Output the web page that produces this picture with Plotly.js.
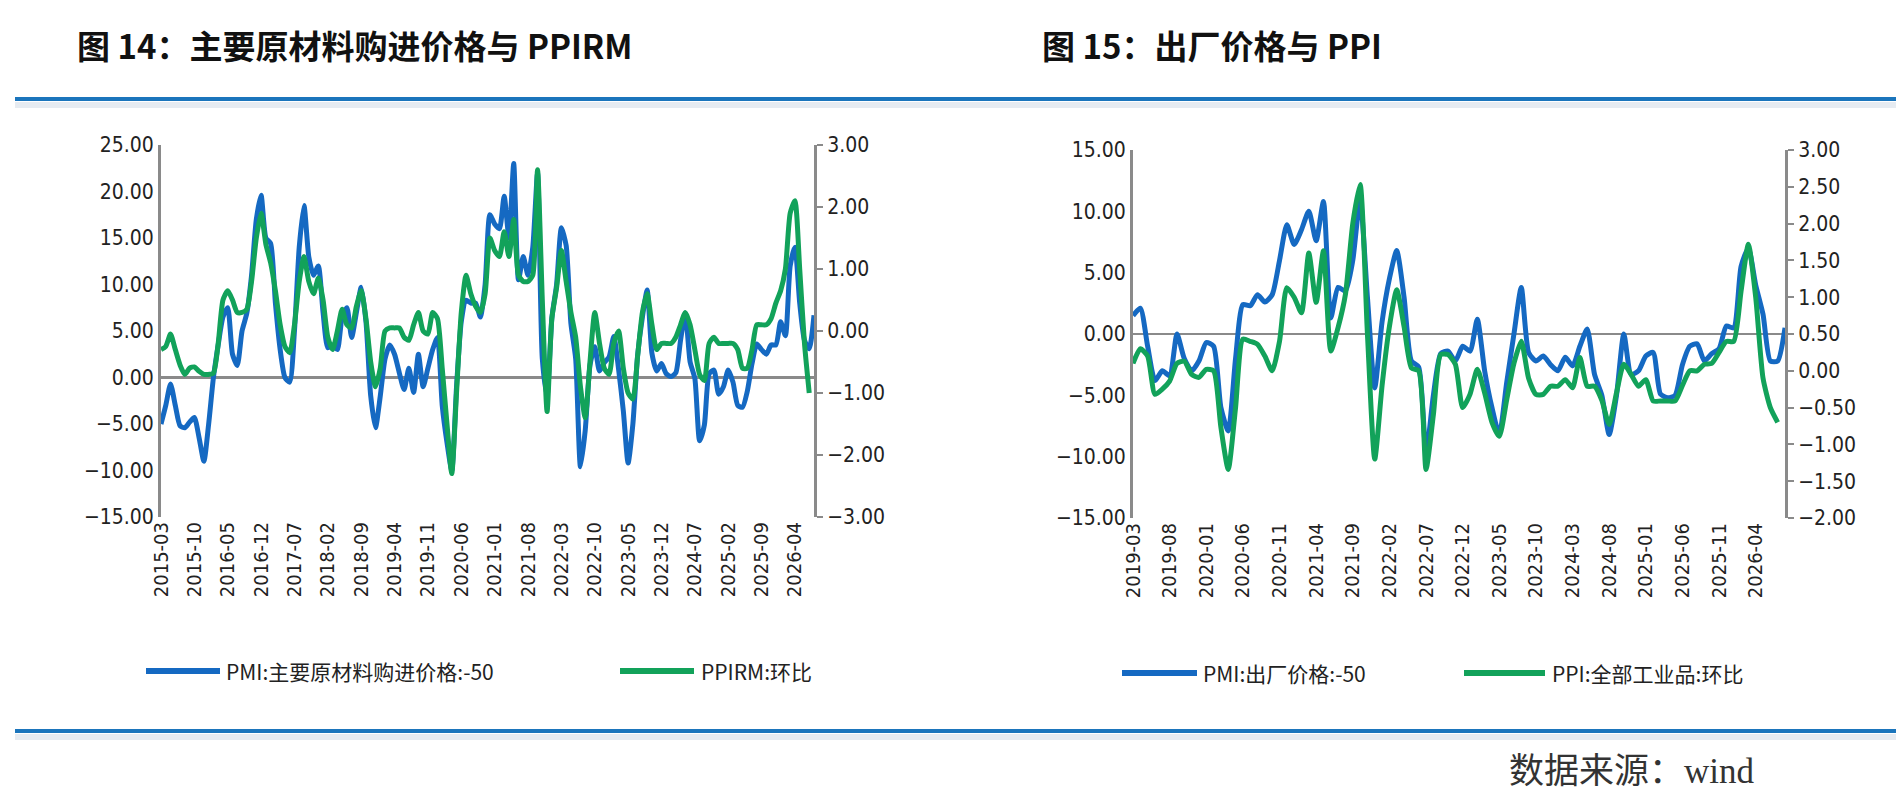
<!DOCTYPE html>
<html>
<head>
<meta charset="utf-8">
<script src="https://cdn.plot.ly/plotly-3.0.1.min.js"></script>
<style>
  html, body { margin: 0; padding: 0; background: #fff; }
  #chart { width: 1900px; height: 801px; }
</style>
</head>
<body>
<div id="chart"></div>
<script>
// Fig 14: monthly, 2015-03 .. 2026-08
const pmiInput = [
  -5, -3, -0.7, -3, -5.2, -5.4, -4.8, -4.3, -6.5, -9,
  -5, 0, 3.5, 6.5, 7.5, 2.5, 1.3, 5, 6.9, 11, 17, 19.6,
  15, 14.4, 8, 3, 0, -0.5, 5, 14, 18.5, 13, 11, 12,
  7, 3.2, 3.5, 3, 6.5, 7.5, 4.3, 7, 9.7, 6, -2, -5.4,
  -2, 2, 3.5, 2.5, 0.5, -1.3, 1, -1.6, 2.5, -1, 1, 3,
  4.3, -3, -7, -10, -1, 6, 8.3, 8, 8, 6.5, 10, 17.5,
  16.5, 16, 19.5, 15, 23, 10.5, 13, 11, 14, 22, 2, -2,
  6.4, 10, 16.1, 14.2, 5.8, 2, -9.6, -5.7, 1.3, 3.3, 0.7, 1.6,
  2.2, 4.4, 0.9, -3.6, -9.2, -5, 2.4, 6.5, 9.4, 2.6, 0.7, 1.5,
  0.4, 0.1, 0.5, 4, 6.9, 1.7, -0.1, -6.8, -5.1, 0.4, 0.8, -1.8,
  -1, 0.8, -0.5, -3, -3.2, -1.5, 1.5, 3.6, 3, 2.5, 3.5, 3.5,
  6, 4.5, 12, 14, 8, 4, 3.1, 6.7
];
const ppirmMom = [
  -0.3, -0.25, -0.05, -0.3, -0.55, -0.7, -0.6, -0.58, -0.65, -0.7,
  -0.7, -0.68, -0.2, 0.5, 0.65, 0.5, 0.3, 0.3, 0.35, 0.8, 1.5, 1.9,
  1.4, 1.1, 0.65, 0.1, -0.25, -0.35, 0.1, 0.8, 1.2, 0.8, 0.6, 0.85,
  0.5, -0.1, -0.3, 0.0, 0.35, 0.1, 0.05, 0.4, 0.65, 0.2, -0.5, -0.9,
  -0.6, 0.0, 0.05, 0.05, 0.05, -0.1, -0.15, 0.1, 0.3, 0.0, -0.05, 0.3,
  0.2, -0.6, -1.5, -2.3, -1.0, 0.3, 0.9, 0.6, 0.4, 0.3, 0.6, 1.5,
  1.3, 1.2, 1.6, 1.2, 1.8, 0.9, 0.8, 0.8, 0.9, 2.6, 0.5, -1.3,
  0.2, 0.7, 1.3, 0.8, 0.3, -0.1, -0.9, -1.4, -0.5, 0.3, -0.2, -0.6,
  -0.7, -0.2, 0.0, -0.6, -1.0, -1.1, -0.4, 0.3, 0.6, 0.1, -0.3, -0.2,
  -0.2, -0.2, -0.1, 0.1, 0.3, 0.1, -0.3, -0.7, -0.8, -0.2, -0.1, -0.2,
  -0.2, -0.2, -0.2, -0.3, -0.6, -0.6, -0.3, 0.1, 0.1, 0.1, 0.2, 0.45,
  0.65, 1.0, 1.9, 2.1, 1.0, -0.2, -1.0, null
];

// Fig 15: monthly, 2019-03 .. 2026-08
const pmiOutput = [
  1.5, 2.1, -1, -3.8, -3, -3.4, 0, -2, -3, -2.2, -0.7, -1,
  -6, -7.9, -2, 2.4, 2.3, 3.2, 2.6, 3.2, 6, 8.9, 7.3, 8.5,
  10, 7.6, 10.8, 1.3, 3.8, 3.5, 6, 11, 3, -4.4, 1, 4.5,
  6.8, 3, -2.2, -2.7, -9.8, -5, -1.6, -1.4, -2.2, -1, -1.4, 1.2,
  -3, -6, -8.2, -4, 0, 3.8, -1.5, -2.2, -1.8, -2.5, -3, -1.9,
  -2.6, -1, 0.4, -3.3, -5, -8.2, -5, 0, -3.3, -3, -1.8, -1.5,
  -4.9, -5.2, -5, -2.5, -1, -0.8, -2.2, -1.6, -1.2, 0.65, 0.5, 5.5,
  7, 4, 1.6, -2.2, -2.2, 0.5
];
const ppiMom = [
  0.1, 0.3, 0.2, -0.32, -0.25, -0.14, 0.1, 0.13, -0.05, -0.09, 0.02, 0.0,
  -0.77, -1.34, -0.5, 0.43, 0.4, 0.36, 0.2, 0.0, 0.4, 1.13, 1.0, 0.79,
  1.6, 0.93, 1.63, 0.27, 0.59, 1.04, 2.0, 2.53, 0.5, -1.2, -0.2, 0.6,
  1.1, 0.6, 0.04, 0.0, -1.34, -0.6, 0.22, 0.22, 0.09, -0.5, -0.32, 0.02,
  -0.3, -0.7, -0.89, -0.4, 0.1, 0.4, -0.1, -0.32, -0.32, -0.21, -0.21, -0.12,
  -0.23, 0.18, -0.21, -0.21, -0.4, -0.73, -0.3, 0.09, -0.05, -0.21, -0.12, -0.41,
  -0.41, -0.41, -0.41, -0.2, 0.0, 0.0, 0.09, 0.1, 0.25, 0.4, 0.4, 1.08,
  1.72, 1.0, -0.1, -0.5, -0.7, null
];

function months(y, m, n) {
  const out = [];
  for (let i = 0; i < n; i++) {
    const mm = (m - 1 + i) % 12 + 1, yy = y + Math.floor((m - 1 + i) / 12);
    out.push(yy + '-' + (mm < 10 ? '0' : '') + mm);
  }
  return out;
}
const months14 = months(2015, 3, pmiInput.length);
const months15 = months(2019, 3, pmiOutput.length);
const ticks14 = months14.filter((d, i) => i % 7 === 0);
const ticks15 = months15.filter((d, i) => i % 5 === 0);

const BLUE = '#1569c2', GREEN = '#12a25a', GRAY = '#8a8a8a';
const numFont = {family: 'DejaVu Sans Condensed, Noto Sans CJK SC', size: 21, color: '#222'};
const xFont = {family: 'DejaVu Sans Condensed, Noto Sans CJK SC', size: 20, color: '#222'};
const legFont = {family: 'Noto Sans CJK SC', size: 21, color: '#222'};
const line = (c) => ({color: c, width: 5, shape: 'spline', smoothing: 0.6});

const data = [
  {x: months14, y: pmiInput, xaxis: 'x', yaxis: 'y', type: 'scatter', mode: 'lines', line: line(BLUE)},
  {x: months14, y: ppirmMom, xaxis: 'x', yaxis: 'y2', type: 'scatter', mode: 'lines', line: line(GREEN)},
  {x: months15, y: pmiOutput, xaxis: 'x3', yaxis: 'y3', type: 'scatter', mode: 'lines', line: line(BLUE)},
  {x: months15, y: ppiMom, xaxis: 'x3', yaxis: 'y4', type: 'scatter', mode: 'lines', line: line(GREEN)}
];

const W = 1900, H = 801;
const px = (v) => v / W, py = (v) => 1 - v / H;

const xBase = {
  type: 'category', showgrid: false, zeroline: false, showline: false,
  ticks: '', tickangle: -90, tickfont: xFont
};
const yLeft = {
  showgrid: false, showline: true, linecolor: GRAY, linewidth: 3, ticks: '',
  tickformat: '.2f', tickfont: numFont, zeroline: true, zerolinecolor: GRAY, zerolinewidth: 3
};
const yRight = {
  showgrid: false, showline: true, linecolor: GRAY, linewidth: 3, ticks: 'outside',
  ticklen: 6, tickwidth: 2, tickcolor: GRAY, tickformat: '.2f', tickfont: numFont,
  zeroline: false, side: 'right'
};

function hline(x0, x1, y, color, width) {
  return {type: 'line', xref: 'paper', yref: 'paper', x0: px(x0), x1: px(x1), y0: py(y), y1: py(y), line: {color: color, width: width}};
}
function label(x, y, text, font, anchor) {
  return {xref: 'paper', yref: 'paper', x: px(x), y: py(y), xanchor: anchor || 'left', yanchor: 'middle',
    showarrow: false, text: text, font: font};
}
const titleFont = {family: 'Noto Sans CJK SC', size: 33, color: '#111'};

const layout = {
  width: W, height: H, showlegend: false,
  paper_bgcolor: '#fff', plot_bgcolor: 'rgba(0,0,0,0)',
  margin: {l: 0, r: 0, t: 0, b: 0},
  xaxis: Object.assign({}, xBase, {domain: [px(161), px(814)], anchor: 'y',
    range: [0, months14.length - 1], tickvals: ticks14, ticktext: ticks14}),
  yaxis: Object.assign({}, yLeft, {domain: [py(517), py(145)], anchor: 'x',
    range: [-15, 25], dtick: 5}),
  yaxis2: Object.assign({}, yRight, {overlaying: 'y', anchor: 'x',
    range: [-3, 3], dtick: 1}),
  xaxis3: Object.assign({}, xBase, {domain: [px(1133), px(1785)], anchor: 'y3',
    range: [0, months15.length - 1], tickvals: ticks15, ticktext: ticks15}),
  yaxis3: Object.assign({}, yLeft, {domain: [py(518), py(150)], anchor: 'x3',
    range: [-15, 15], dtick: 5, zerolinewidth: 2.5}),
  yaxis4: Object.assign({}, yRight, {overlaying: 'y3', anchor: 'x3',
    range: [-2, 3], dtick: 0.5}),
  shapes: [
    hline(15, 1896, 105, '#e6ebf1', 6),
    hline(15, 1896, 99, '#1b75bc', 4),
    hline(15, 1896, 737, '#e6ebf1', 6),
    hline(15, 1896, 731, '#1b75bc', 4),
    // legend keys
    hline(146, 220, 671, BLUE, 6),
    hline(620, 694, 671, GREEN, 6),
    hline(1122, 1197, 673, BLUE, 6),
    hline(1464, 1545, 673, GREEN, 6)
  ],
  annotations: [
    label(75, 45, '<b>图 14：主要原材料购进价格与 PPIRM</b>', titleFont),
    label(1040, 45, '<b>图 15：出厂价格与 PPI</b>', titleFont),
    label(224, 671, 'PMI:主要原材料购进价格:-50', legFont),
    label(699, 671, 'PPIRM:环比', legFont),
    label(1201, 673, 'PMI:出厂价格:-50', legFont),
    label(1550, 673, 'PPI:全部工业品:环比', legFont),
    label(1757, 771, '数据来源：wind', {family: 'Liberation Serif, Noto Sans CJK SC', size: 35, color: '#333'}, 'right')
  ]
};

Plotly.newPlot('chart', data, layout, {displayModeBar: false, staticPlot: true});
</script>
</body>
</html>
